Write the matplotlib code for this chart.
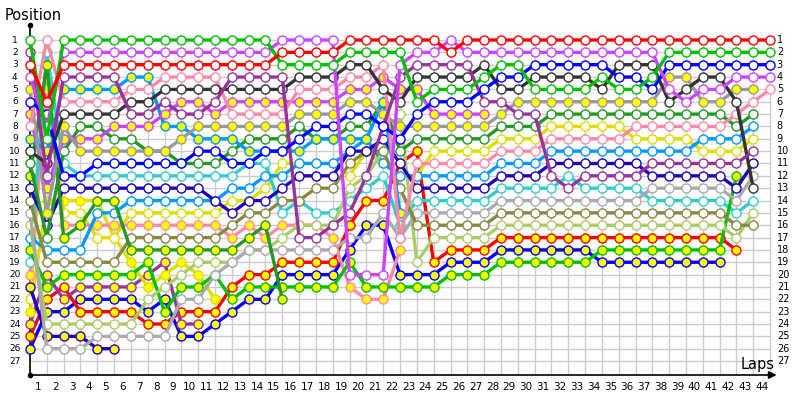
import matplotlib
matplotlib.use("Agg")
import matplotlib.pyplot as plt

N = None
laps = list(range(0, 45))

# position per lap (index 0 = grid, 1..44 = laps), None = not running
red_w = [3, 6, 3, 3, 3, 3, 3, 3, 3, 3, 3, 3, 3, 3, 3, 2, 2, 2, 2, 1, 1, 1, 1, 1, 1, 2,
         1, 1, 1, 1, 1, 1, 1, 1, 1, 1, 1, 1, 1, 1, 1, 1, 1, 1, 1]
green_w = [1, 9, 1, 1, 1, 1, 1, 1, 1, 1, 1, 1, 1, 1, 1, 3, 3, 3, 3, 2, 2, 2, 2, 6, 5, 5, 5, 4,
           3, 3, 5, 5, 5, 5, 4, 5, 5, 4, 2, 2, 2, 2, 2, 2, 2]
violet_w = [4, 8, 2, 2, 2, 2, 2, 2, 2, 2, 2, 2, 2, 2, 2, 1, 1, 1, 1, 20, 20, 20, 3, 2, 2, 1,
            2, 2, 2, 2, 2, 2, 2, 2, 2, 2, 2, 2, 5, 6, 5, 5, 4, 4, 4]
blue_w = [6, 7, 12, 12, 11, 11, 11, 11, 11, 11, 10, 10, 11, 11, 10, 10, 9, 8, 8, 7, 7, 8, 9, 7,
          6, 6, 6, 5, 4, 4, 3, 3, 3, 3, 3, 4, 4, 5, 3, 3, 3, 3, 3, 3, 3]
dpurple_w = [2, 12, 4, 4, 4, 4, 7, 7, 6, 7, 7, 6, 4, 4, 4, 4, 17, 17, 16, 15, 12, 8, 4, 3, 3, 3,
             3, 6, 6, 7, 7, 12, 13, 12, 12, 12, 12, 11, 11, 11, 11, 11, 11, 10, N]
black_w = [10, 11, 7, 7, 7, 7, 6, 6, 5, 5, 5, 5, 5, 5, 5, 5, 4, 4, 4, 3, 3, 5, 6, 4, 4, 4, 4, 3,
           5, 5, 4, 4, 4, 4, 5, 3, 3, 3, 6, 5, 4, 4, 6, 13, N]
pink_w = [8, 1, 6, 6, 6, 6, 5, 5, 4, 4, 4, 4, 7, 7, 7, 7, 5, 5, 5, 4, 4, 3, 17, 11, 11, 11, 11,
          11, 10, 10, 10, 9, 9, 9, 9, 9, 8, 8, 8, 8, 8, 8, 7, 6, 5]
gray_y = [5, 15, 8, 10, 10, 10, 10, 10, 10, 9, 8, 8, 8, 8, 8, 8, 7, 7, 7, 6, 6, 7, 8, 8, 8, 8, 8,
          8, 7, 6, 6, 6, 6, 6, 6, 6, 6, 6, 4, 4, 6, 6, 5, 5, N]
violet_y = [7, 13, 9, 9, 9, 8, 8, 8, 7, 6, 6, 7, 6, 6, 6, 6, 6, 6, 6, 5, 5, 4, 5, 5, 7, 7, 7, 7] + [N] * 17
lblue_y = [9, 10, 5, 5, 5, 5, 4, 4, 8, 8, 9, 9, 9, 10, 10, 10, 10, 9, 9, 9, 9, 6, 15] + [N] * 22
dgreen_w = [11, 17, 10, 8, 8, 9, 9, 10, 10, 11, 11, 11, 10, 9, 9, 9, 8, 9, 9, 8, 8, 6, 10, 9, 9, 9,
            9, 9, 8, 8, 8, 7, 7, 7, 7, 7, 7, 7, 7, 7, 7, 7, 8, 7, N]
green_ya = [12, 3, 17, 16, 14, 14, 18, 18, 18, 18, 18, 18, 18, 17, 16, 22] + [N] * 29
navy_w = [13, 16, 13, 13, 13, 13, 13, 13, 13, 13, 13, 14, 15, 14, 14, 13, 12, 12, 12, 10, 10, 9,
          11, 13, 13, 13, 13, 13, 12, 12, 12, 11, 11, 11, 11, 11, 11, 12, 12, 12, 12, 12, 13, 11, N]
olive_w = [14, 19, 19, 19, 19, 19, 17, 17, 17, 17, 17, 17, 16, 15, 15, 14, 14, 13, 13, 11, 10, 10,
           13, 16, 16, 16, 16, 16, 15, 15, 15, 15, 15, 15, 15, 15, 15, 15, 15, 15, 15, 15, 16, 16, N]
lgray_w = [15, 26, 26, 26, 25, 25, 25, 25, 25, 22, 22, 20, 19, 18, 18, 18, 18, 18, 18, 17, 17, 15,
           17, 15, 15, 15, 15, 15, 14, 14, 14, 14, 14, 14, 14, 14, 14, 13, 13, 13, 13, 13, 14, 12, N]
lime_w = [16, 24, 24, 24, 24, 24, 24, 22, 21, 20, 19, 19, 19, 18, 18, 17, 16, 16, 16, 13, 12, 10,
          7, 19, 17, 17, 17, 17, 16, 16, 16, 16, 16, 16, 16, 16, 16, 16, 16, 16, 16, 16, 17, 15, N]
lblue_w = [17, 18, 18, 18, 15, 15, 14, 14, 14, 14, 14, 14, 13, 13, 12, 12, 11, 11, 11, 10, 9, 11,
           12, 12, 12, 12, 12, 12, 11, 11, 11, 10, 10, 10, 10, 10, 10, 10, 10, 10, 9, 9, 9, 8, N]
green_yb = [18, 21, 20, 20, 20, 20, 20, 19, 23, 21, 21, 20, 22, 21, 21, 21, 21, 21, 21, 19, 21, 21,
            21, 21, 21, 20, 20, 20, 19, 19, 19, 19, 19, 19, 18, 18, 18, 18, 18, 18, 18, 18, 12, N, N]
cyan_w = [19, 2, 11, 12, 12, 12, 12, 12, 12, 12, 12, 12, 12, 11, 11, 15, 14, 15, 15, 14, 13, 12,
          16, 14, 14, 14, 14, 14, 13, 13, 13, 13, 12, 13, 13, 13, 13, 14, 14, 14, 14, 14, 15, 14, N]
pink_y = [20, 5, 16, 16, 16, 16, 16, 16, 16, 16, 16, 16, 17, 16, 17, 16, 16, 16, 17, 21, 22, 22, 18] + [N] * 22
navy_y = [21, 25, 25, 25, 26, 26] + [N] * 39
yellow_w = [22, 4, 15, 15, 17, 17, 15, 15, 15, 15, 15, 15, 14, 14, 13, 11, 11, 11, 11, 12, 10, 11,
            12, 12, 10, 10, 10, 10, 9, 9, 9, 8, 8, 8, 8, 8, 9, 9, 9, 9, 10, 10, 10, 9, N]
yellow_y = [23, 14, 14, 14, 14, 17, 19, 21, 20, 19, 20, 22] + [N] * 33
dpurple_y = [24, 20, 22, 21, 21, 21, 21, 20, 19, 24, 24] + [N] * 34
red_y = [25, 22, 21, 23, 23, 23, 23, 24, 24, 23, 23, 23, 21, 20, 20, 19, 19, 19, 19, 16, 14, 14,
         11, 10, 19, 18, 18, 18, 17, 17, 17, 17, 17, 17, 17, 17, 17, 17, 17, 17, 17, 17, 18, N, N]
blue_y = [26, 23, 23, 22, 22, 22, 22, 23, 22, 25, 25, 24, 23, 22, 22, 20, 20, 20, 20, 18, 16, 16,
          20, 20, 20, 19, 19, 19, 18, 18, 18, 18, 18, 18, 19, 19, 19, 19, 19, 19, 19, 19, N, N, N]

YEL = "#ffff00"
drivers = [
    (red_w, "#ff0000", "white"), (green_w, "#00c000", "white"), (violet_w, "#cc44ff", "white"),
    (blue_w, "#0000ff", "white"), (dpurple_w, "#993399", "white"), (black_w, "#333333", "white"),
    (pink_w, "#ff88aa", "white"), (gray_y, "#999999", YEL), (violet_y, "#cc44ff", YEL),
    (lblue_y, "#0099ff", YEL), (dgreen_w, "#229922", "white"), (green_ya, "#229922", YEL),
    (navy_w, "#2200bb", "white"), (olive_w, "#888844", "white"), (lgray_w, "#aaaaaa", "white"),
    (lime_w, "#aacc66", "white"), (lblue_w, "#0099ff", "white"), (green_yb, "#00c000", YEL),
    (cyan_w, "#33cccc", "white"), (pink_y, "#ff88aa", YEL), (navy_y, "#2200bb", YEL),
    (yellow_w, "#dddd00", "white"), (yellow_y, "#dddd00", YEL), (dpurple_y, "#993399", YEL),
    (red_y, "#ff0000", YEL), (blue_y, "#0000ff", YEL),
]

fig = plt.figure(figsize=(8, 4), dpi=100)
ax = fig.add_axes([30 / 800, 25 / 400, 745 / 800, 350 / 400])
x_max = 745 / 16.82
y_top, y_bot = -0.215, 28.13
ax.set_xlim(0, x_max)
ax.set_ylim(y_bot, y_top)
ax.axis("off")

# grid
ax.hlines(range(1, 28), 0, 44, color="#cccccc", lw=1, zorder=0)
ax.vlines(range(1, 45), 0.76, y_bot, color="#cccccc", lw=1, zorder=0)

# axes with dots and arrow
ax.plot([0, 0], [y_top, y_bot], color="black", lw=1.2, clip_on=False, zorder=1)
ax.plot([0, 0], [y_top, y_bot], "o", color="black", ms=3, clip_on=False, zorder=1)
ax.annotate("", xy=(44.55, y_bot), xytext=(0, y_bot), annotation_clip=False,
            arrowprops=dict(arrowstyle="-|>", color="black", lw=1.2, mutation_scale=11))

# lap chart lines, leaders drawn last
for pos, col, face in reversed(drivers):
    xs = [lap for lap, p in zip(laps, pos) if p is not None]
    ys = [p for p in pos if p is not None]
    ax.plot(xs, ys, "-o", color=col, lw=2.4, ms=6.5, mfc=face, mec=col, mew=1.0,
            clip_on=False, zorder=2)

# tick labels
for p in range(1, 28):
    ax.text(-0.9, p, str(p), ha="center", va="center", fontsize=6.5)
    ax.text(44.4, p, str(p), ha="left", va="center", fontsize=7)
for lap in range(1, 45):
    ax.text(lap - 0.5, 29.1, str(lap), ha="center", va="center", fontsize=7.5)

fig.text(5 / 800, 1 - 15 / 400, "Position", fontsize=10.5, ha="left", va="center")
fig.text(775 / 800, 1 - 364 / 400, "Laps", fontsize=10.5, ha="right", va="center")

plt.savefig("out.png", dpi=100)
